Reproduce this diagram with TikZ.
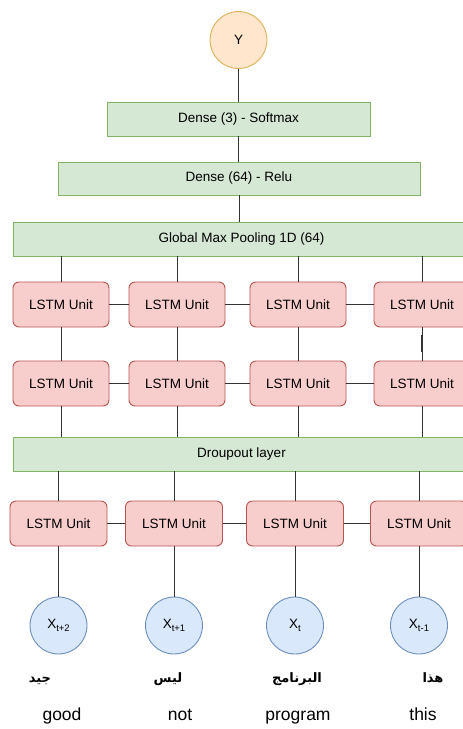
\documentclass[tikz,border=0pt]{standalone}
\usepackage{fontspec}
\setmainfont{Liberation Sans}
\newfontfamily\arabicfont[Script=Arabic]{DejaVu Sans}
\TeXXeTstate=1
\definecolor{greenfill}{HTML}{D5E8D4}
\definecolor{greenline}{HTML}{82B366}
\definecolor{redfill}{HTML}{F8CECC}
\definecolor{redline}{HTML}{B85450}
\definecolor{bluefill}{HTML}{DAE8FC}
\definecolor{blueline}{HTML}{6C8EBF}
\definecolor{orangefill}{HTML}{FFE6CC}
\definecolor{orangeline}{HTML}{DDB35A}
\definecolor{wire}{HTML}{333333}
\newcommand{\xsub}[1]{X\raisebox{-0.45ex}{\fontsize{9.5}{10}\selectfont #1}}
\tikzset{
  x=1pt, y=1pt,
  layer/.style={draw=greenline, fill=greenfill, line width=0.9pt, minimum height=34pt,
    font=\fontsize{13.5}{15}\selectfont, inner sep=0pt},
  lstm/.style={draw=redline, fill=redfill, line width=0.9pt, rounded corners=6pt,
    minimum width=96pt, minimum height=45pt, font=\fontsize{13.5}{15}\selectfont, inner sep=0pt},
  inputnode/.style={circle, draw=blueline, fill=bluefill, line width=0.9pt,
    minimum size=57pt, inner sep=0pt, font=\fontsize{13.5}{15}\selectfont},
  outputnode/.style={circle, draw=orangeline, fill=orangefill, line width=0.9pt,
    minimum size=57pt, inner sep=0pt, font=\fontsize{13.5}{15}\selectfont},
  arword/.style={anchor=base, font=\arabicfont\bfseries\fontsize{13}{15}\selectfont, inner sep=0pt},
  enword/.style={anchor=base, font=\fontsize{17.5}{20}\selectfont, inner sep=0pt},
  link/.style={draw=wire, line width=0.9pt},
}
\begin{document}
\begin{tikzpicture}
\useasboundingbox (0,0) rectangle (463,-729);
\clip (0,0) rectangle (463,-729);

% output and dense layers
\node[outputnode] (y) at (238.5,-40) {Y};
\node[layer, minimum width=263pt] (d3) at (238.5,-119) {Dense (3) - Softmax};
\node[layer, minimum width=362pt, minimum height=33pt] (d64) at (239,-178.5) {Dense (64) - Relu};
\node[layer, minimum width=457pt] (gmp) at (241.5,-239) {Global Max Pooling 1D (64)};

% upper two LSTM rows
\foreach \i/\x in {1/61,2/177,3/298,4/422}{
  \node[lstm] (a\i) at (\x,-304.5) {LSTM Unit};
  \node[lstm] (b\i) at (\x,-383.5) {LSTM Unit};
}

\node[layer, minimum width=457pt] (drop) at (241.5,-454) {Droupout layer};

% lower LSTM row and input circles
\node[lstm, minimum width=97pt] (c1) at (58.5,-523.5) {LSTM Unit};
\node[lstm, minimum width=97pt] (c2) at (174,-523.5) {LSTM Unit};
\node[lstm, minimum width=97pt] (c3) at (295,-523.5) {LSTM Unit};
\node[lstm, minimum width=97pt] (c4) at (419,-523.5) {LSTM Unit};
\node[inputnode] (x1) at (58.5,-625.5) {\xsub{t+2}};
\node[inputnode] (x2) at (174,-625.5) {\xsub{t+1}};
\node[inputnode] (x3) at (295,-625.5) {\xsub{t}};
\node[inputnode] (x4) at (419,-625.5) {\xsub{t-1}};

% words
\node[arword] (w1) at (40,-682) {\beginR جيد\endR};
\node[arword] (w2) at (168,-682) {\beginR ليس\endR};
\node[arword] (w3) at (297,-682) {\beginR البرنامج\endR};
\node[arword] (w4) at (433,-682) {\beginR هذا\endR};
\node[enword] (e1) at (62,-720) {good};
\node[enword] (e2) at (180,-720) {not};
\node[enword] (e3) at (298,-720) {program};
\node[enword] (e4) at (423,-720) {this};

% connectors
\draw[link] (y.south) -- (y.south |- d3.north);
\draw[link] (d3.south) -- (d3.south |- d64.north);
\draw[link] (d64.south) -- (d64.south |- gmp.north);
\foreach \i in {1,2,3,4}{
  \draw[link] (a\i.north) -- (a\i.north |- gmp.south);
  \draw[link] (a\i) -- (b\i);
  \draw[link] (b\i.south) -- (b\i.south |- drop.north);
  \draw[link] (c\i.north) -- (c\i.north |- drop.south);
  \draw[link] (c\i) -- (x\i);
}
\foreach \i/\j in {1/2,2/3,3/4}{
  \draw[link] (a\i) -- (a\j);
  \draw[link] (b\i) -- (b\j);
  \draw[link] (c\i) -- (c\j);
}
\coordinate (k1) at (422,-335);
\coordinate (k2) at (422,-352);
\draw[draw=wire, line width=2pt] (k1) -- (k2);
\end{tikzpicture}
\end{document}
